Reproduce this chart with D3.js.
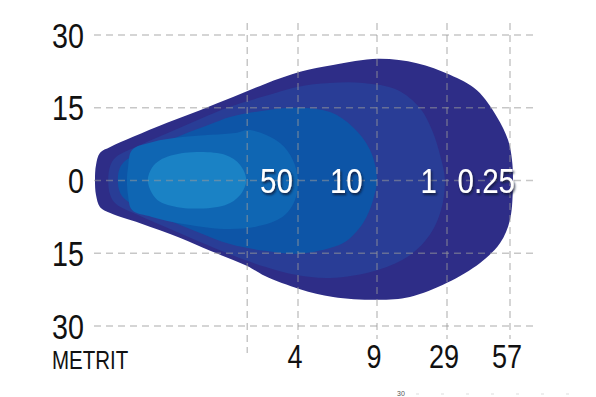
<!DOCTYPE html>
<html>
<head>
<meta charset="utf-8">
<script src="https://cdn.jsdelivr.net/npm/d3@7"></script>
<style>
body { margin: 0; background: #fff; }
svg { display: block; }
text { font-family: "Liberation Sans", Arial, sans-serif; }
</style>
</head>
<body>
<div class="canvas"></div>
<script>
var WIDTH = 596;
var HEIGHT = 397;
var NARROW = 0.82;

// lux levels, outermost first
var lux = ['0.25', '1', '10', '50', ''];
var lux_cols = ['#2e2d87', '#293d96', '#0d55a7', '#0f66b3', '#1a82c5'];
var label_dist = [59.2, 26.1, 8.1, 3.9, null];

// iso-lux outlines, [distance m, lateral m]
var iso_025 = [[0, 0.1], [0.02, 3.2], [0.1, 5.7], [0.3, 6.9], [0.75, 9.0], [1.42, 11.9], [2.07, 14.5],
	[2.72, 17.2], [3.35, 19.9], [4.13, 22.4], [6.22, 23.8], [9.29, 25.1], [20.4, 24.2], [30.3, 21.8],
	[42.3, 18.6], [51.2, 13.1], [56.1, 8.4], [57.9, 4.2], [58.3, -0.3], [57.0, -8.1], [52.6, -12.9],
	[43.7, -17.0], [29, -21.1], [18.4, -24.0], [9.29, -24.6], [6.22, -24.0], [4.13, -22.4], [3.35, -19.7],
	[2.99, -17.6], [2.27, -14.5], [1.67, -11.8], [0.89, -8.8], [0.3, -6.7], [0.1, -5.5], [0.02, -3.0]];
var iso_1 = [[0.26, 0.1], [0.3, 3.0], [0.41, 4.8], [0.89, 7.3], [1.48, 10.0], [2.07, 12.7], [2.66, 15.2],
	[3.35, 17.4], [3.98, 19.3], [6.03, 20.1], [8.11, 20.1], [14.7, 18.7], [21.3, 14.9], [24.7, 10.4],
	[27.0, 5.3], [28.4, 0.1], [27.3, -6.1], [24.1, -11.2], [18.4, -15.4], [9.0, -18.5], [6.03, -20.1],
	[3.98, -19.5], [3.35, -17.8], [2.66, -15.2], [2.07, -12.7], [1.48, -10.0], [0.89, -7.3], [0.41, -4.8],
	[0.3, -3.0]];
var iso_10 = [[0.45, 0.1], [0.49, 2.6], [0.61, 4.2], [1.08, 6.5], [1.67, 9.2], [2.27, 11.6], [2.66, 13.1],
	[3.25, 14.3], [3.98, 15.0], [6.03, 14.1], [7.48, 11.0], [8.56, 6.3], [9.0, 0.5], [8.75, -4.0],
	[8.11, -8.8], [6.97, -12.7], [6.03, -13.9], [3.98, -15.1], [3.35, -14.5], [2.66, -13.1], [2.07, -10.8],
	[1.48, -8.3], [0.89, -5.7], [0.61, -4.0], [0.49, -2.4]];
var iso_50 = [[0.63, 0.1], [0.65, 2.6], [0.73, 6.3], [1.12, 7.9], [1.77, 9.0], [2.76, 9.8], [3.05, 10.4],
	[3.65, 7.7], [3.9, 4.2], [4.0, 0.1], [3.94, -4.0], [3.74, -7.1], [3.31, -9.2], [2.66, -10.0],
	[1.77, -9.0], [1.12, -7.5], [0.73, -6.1], [0.65, -3.0]];
var iso_100 = [[1.04, 0.1], [1.12, 2.6], [1.28, 4.2], [1.77, 5.7], [2.56, 5.3], [2.86, 3.2], [2.98, 0.1],
	[2.86, -3.0], [2.56, -5.1], [1.77, -5.7], [1.28, -4.4], [1.12, -2.6]];
var contours = [iso_025, iso_1, iso_10, iso_50, iso_100];

var dist_ticks = [3, 4, 9, 29, 57];
var dist_labels = ['', '4', '9', '29', '57'];
var side_ticks = [30, 15, 0, -15, -30];

var svg = d3.select('div.canvas').append('svg')
	.attr('width', WIDTH)
	.attr('height', HEIGHT);

// distance axis is not linear, each labelled distance gets its own stop
var x = d3.scaleLinear().domain([0, 4, 9, 29, 57]).range([95, 298, 377, 447, 510]);
var y = d3.scaleLinear().domain([30, -30]).range([35, 326]);

function narrow_at(px, py) {
	return 'translate(' + px + ',' + py + ') scale(' + NARROW + ',1)';
}

var defs = svg.append('defs');
var shadow = defs.append('filter').attr('id', 'shadow')
	.attr('x', '-20%').attr('y', '-20%').attr('width', '150%').attr('height', '160%');
shadow.append('feDropShadow')
	.attr('dx', 1.5).attr('dy', 2).attr('stdDeviation', 1.2)
	.attr('flood-color', '#0b1233').attr('flood-opacity', 0.85);

var line = d3.line()
	.x(function(d) { return x(d[0]); })
	.y(function(d) { return y(d[1]); })
	.curve(d3.curveCatmullRomClosed.alpha(0.5));

svg.append('g').selectAll('path')
	.data(contours)
	.enter().append('path')
	.attr('d', line)
	.attr('fill', function(d, i) { return lux_cols[i]; });

// grid goes over the beam, faded
var grid = svg.append('g')
	.attr('stroke', '#999')
	.attr('stroke-opacity', 0.55)
	.attr('stroke-width', 1.5)
	.attr('stroke-dasharray', '7,5');

grid.selectAll('line.h')
	.data(side_ticks)
	.enter().append('line')
	.attr('class', 'h')
	.attr('x1', 94).attr('x2', 536)
	.attr('y1', function(d) { return y(d); })
	.attr('y2', function(d) { return y(d); });

grid.selectAll('line.v')
	.data(dist_ticks)
	.enter().append('line')
	.attr('class', 'v')
	.attr('x1', function(d) { return x(d); })
	.attr('x2', function(d) { return x(d); })
	.attr('y1', 23)
	.attr('y2', function(d, i) { return dist_labels[i] == '' ? 353 : 339; });

svg.append('g').selectAll('text')
	.data(side_ticks)
	.enter().append('text')
	.attr('transform', function(d) { return narrow_at(84, y(d)); })
	.attr('dy', '0.36em')
	.attr('text-anchor', 'end')
	.attr('font-size', 35)
	.attr('fill', '#111')
	.text(function(d) { return Math.abs(d); });

svg.append('g').selectAll('text')
	.data(dist_ticks)
	.enter().append('text')
	.attr('transform', function(d) { return narrow_at(x(d) - 3, 368); })
	.attr('text-anchor', 'middle')
	.attr('font-size', 33)
	.attr('fill', '#111')
	.text(function(d, i) { return dist_labels[i]; });

svg.append('text')
	.attr('transform', narrow_at(52, 369))
	.attr('font-size', 25)
	.attr('fill', '#111')
	.text('METRIT');

svg.append('g').selectAll('text')
	.data(lux.slice(0, 4))
	.enter().append('text')
	.attr('transform', function(d, i) { return narrow_at(x(label_dist[i]), y(0)); })
	.attr('dy', '0.36em')
	.attr('text-anchor', 'end')
	.attr('font-size', 36)
	.attr('fill', '#fff')
	.attr('filter', 'url(#shadow)')
	.text(function(d) { return d; });

// leftover scrap at the bottom edge
svg.append('text')
	.attr('x', 397)
	.attr('y', 396)
	.attr('font-size', 7)
	.attr('fill', '#555')
	.text('30');
svg.append('line')
	.attr('x1', 416).attr('x2', 586)
	.attr('y1', 394).attr('y2', 394)
	.attr('stroke', '#ddd')
	.attr('stroke-dasharray', '3,22');
</script>
</body>
</html>
